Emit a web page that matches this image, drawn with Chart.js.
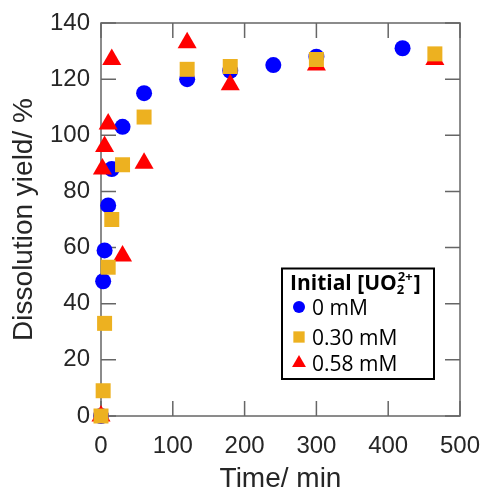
<!DOCTYPE html>
<html>
<head>
<meta charset="utf-8">
<script src="https://cdn.jsdelivr.net/npm/chart.js@4.4.0/dist/chart.umd.min.js"></script>
<style>
  html, body { margin: 0; padding: 0; background: #fff; }
</style>
</head>
<body>
<canvas id="chart" width="484" height="493"></canvas>
<script>
// 0 mM
const time0 = [0, 3, 5, 10, 15, 30, 60, 120, 180, 240, 300, 420];
const yield0 = [0, 48, 59, 75, 88, 103, 115, 120, 123, 125, 128, 131];
// 0.30 mM
const time30 = [0, 3, 5, 10, 15, 30, 60, 120, 180, 300, 465];
const yield30 = [0, 9, 33, 53, 70, 89.5, 106.5, 123.5, 124.5, 127, 129];
// 0.58 mM
const time58 = [0, 2, 5, 10, 15, 30, 60, 120, 180, 300, 465];
const yield58 = [0, 88, 96, 104, 127, 57, 90, 133, 118, 125, 127];

const xTicks = [0, 100, 200, 300, 400, 500];
const yTicks = [0, 20, 40, 60, 80, 100, 120, 140];

const legendLabels = ['0 mM', '0.30 mM', '0.58 mM'];

const BLUE = '#0000ff';
const ORANGE = '#edb120';
const RED = '#ff0000';

const toPoints = (xs, ys) => xs.map((x, i) => ({x: x, y: ys[i]}));

// box round the plot with ticks pointing inwards, on all four sides
const innerTicks = {
    id: 'innerTicks',
    beforeDatasetsDraw(chart) {
        const {ctx, chartArea: a, scales} = chart;
        const len = 15;
        ctx.save();
        ctx.strokeStyle = '#666666';
        ctx.lineWidth = 1.5;
        ctx.strokeRect(a.left, a.top, a.right - a.left, a.bottom - a.top);
        ctx.beginPath();
        xTicks.forEach(v => {
            const px = scales.x.getPixelForValue(v);
            ctx.moveTo(px, a.bottom); ctx.lineTo(px, a.bottom - len);
            ctx.moveTo(px, a.top); ctx.lineTo(px, a.top + len);
        });
        yTicks.forEach(v => {
            const py = scales.y.getPixelForValue(v);
            ctx.moveTo(a.left, py); ctx.lineTo(a.left + len, py);
            ctx.moveTo(a.right, py); ctx.lineTo(a.right - len, py);
        });
        ctx.stroke();
        ctx.restore();
    }
};

// legend box with the UO2 2+ title
const boxLegend = {
    id: 'boxLegend',
    afterDraw(chart) {
        const ctx = chart.ctx;
        const bx = 282, by = 268.5, bw = 152, bh = 110.5;
        ctx.save();
        ctx.strokeStyle = '#000';
        ctx.lineWidth = 2;
        ctx.strokeRect(bx, by, bw, bh);

        ctx.fillStyle = '#000';
        ctx.textBaseline = 'alphabetic';
        ctx.textAlign = 'left';
        let x = 290;
        const base = 290;
        ctx.font = 'bold 21px "Open Sans"';
        ctx.fillText('Initial [UO', x, base);
        x += ctx.measureText('Initial [UO').width;
        ctx.font = 'bold 13px "Open Sans"';
        ctx.fillText('2', x, base + 4);
        const wSub = ctx.measureText('2').width;
        ctx.fillText('2+', x + 1, base - 9);
        const wSup = ctx.measureText('2+').width + 1;
        x += Math.max(wSub, wSup) + 1;
        ctx.font = 'bold 21px "Open Sans"';
        ctx.fillText(']', x, base);

        const rows = [
            {style: 'circle', color: BLUE, r: 6, y: 307},
            {style: 'rect', color: ORANGE, r: 8, y: 337},
            {style: 'triangle', color: RED, r: 8, y: 363}
        ];
        ctx.font = '21px "Open Sans"';
        rows.forEach((row, i) => {
            ctx.fillStyle = row.color;
            ctx.strokeStyle = row.color;
            ctx.lineWidth = 0;
            Chart.helpers.drawPoint(ctx, {pointStyle: row.style, radius: row.r, rotation: 0, borderWidth: 0}, 299, row.y);
            ctx.fillStyle = '#000';
            ctx.fillText(legendLabels[i], 312, row.y + 8);
        });
        ctx.restore();
    }
};

new Chart(document.getElementById('chart'), {
    type: 'scatter',
    data: {
        datasets: [
            {
                label: legendLabels[0],
                data: toPoints(time0, yield0),
                pointStyle: 'circle',
                pointRadius: 8,
                backgroundColor: BLUE,
                borderColor: BLUE,
                borderWidth: 0,
                order: 3
            },
            {
                label: legendLabels[1],
                data: toPoints(time30, yield30),
                pointStyle: 'rect',
                pointRadius: 10.6,
                backgroundColor: ORANGE,
                borderColor: ORANGE,
                borderWidth: 0,
                order: 1
            },
            {
                label: legendLabels[2],
                data: toPoints(time58, yield58),
                pointStyle: 'triangle',
                pointRadius: 11,
                backgroundColor: RED,
                borderColor: RED,
                borderWidth: 0,
                order: 2
            }
        ]
    },
    options: {
        responsive: false,
        animation: false,
        clip: false,
        datasets: {
            scatter: {clip: false}
        },
        layout: {
            padding: {left: 0, top: 23, right: 24, bottom: 0}
        },
        scales: {
            x: {
                type: 'linear',
                min: 0,
                max: 500,
                afterBuildTicks: s => { s.ticks = xTicks.map(v => ({value: v})); },
                afterFit: s => { s.height = 77; s.paddingLeft = 0; s.paddingRight = 0; },
                grid: {display: false, drawTicks: false},
                border: {display: false},
                ticks: {
                    color: '#262626',
                    padding: 16,
                    font: {family: '"Liberation Sans", Arial', size: 24}
                },
                title: {
                    display: true,
                    text: 'Time/ min',
                    color: '#262626',
                    padding: {top: 0, bottom: 0},
                    font: {family: '"Liberation Sans", Arial', size: 28, lineHeight: 1.0}
                }
            },
            y: {
                min: 0,
                max: 140,
                afterBuildTicks: s => { s.ticks = yTicks.map(v => ({value: v})); },
                afterFit: s => { s.width = 101; s.paddingTop = 0; s.paddingBottom = 0; },
                grid: {display: false, drawTicks: false},
                border: {display: false},
                ticks: {
                    color: '#262626',
                    padding: 11,
                    font: {family: '"Liberation Sans", Arial', size: 24}
                },
                title: {
                    display: true,
                    text: 'Dissolution yield/ %',
                    color: '#262626',
                    padding: {top: 7, bottom: 0},
                    font: {family: '"Liberation Sans", Arial', size: 28}
                }
            }
        },
        plugins: {
            legend: {display: false},
            tooltip: {enabled: false}
        }
    },
    plugins: [innerTicks, boxLegend]
});
</script>
</body>
</html>
